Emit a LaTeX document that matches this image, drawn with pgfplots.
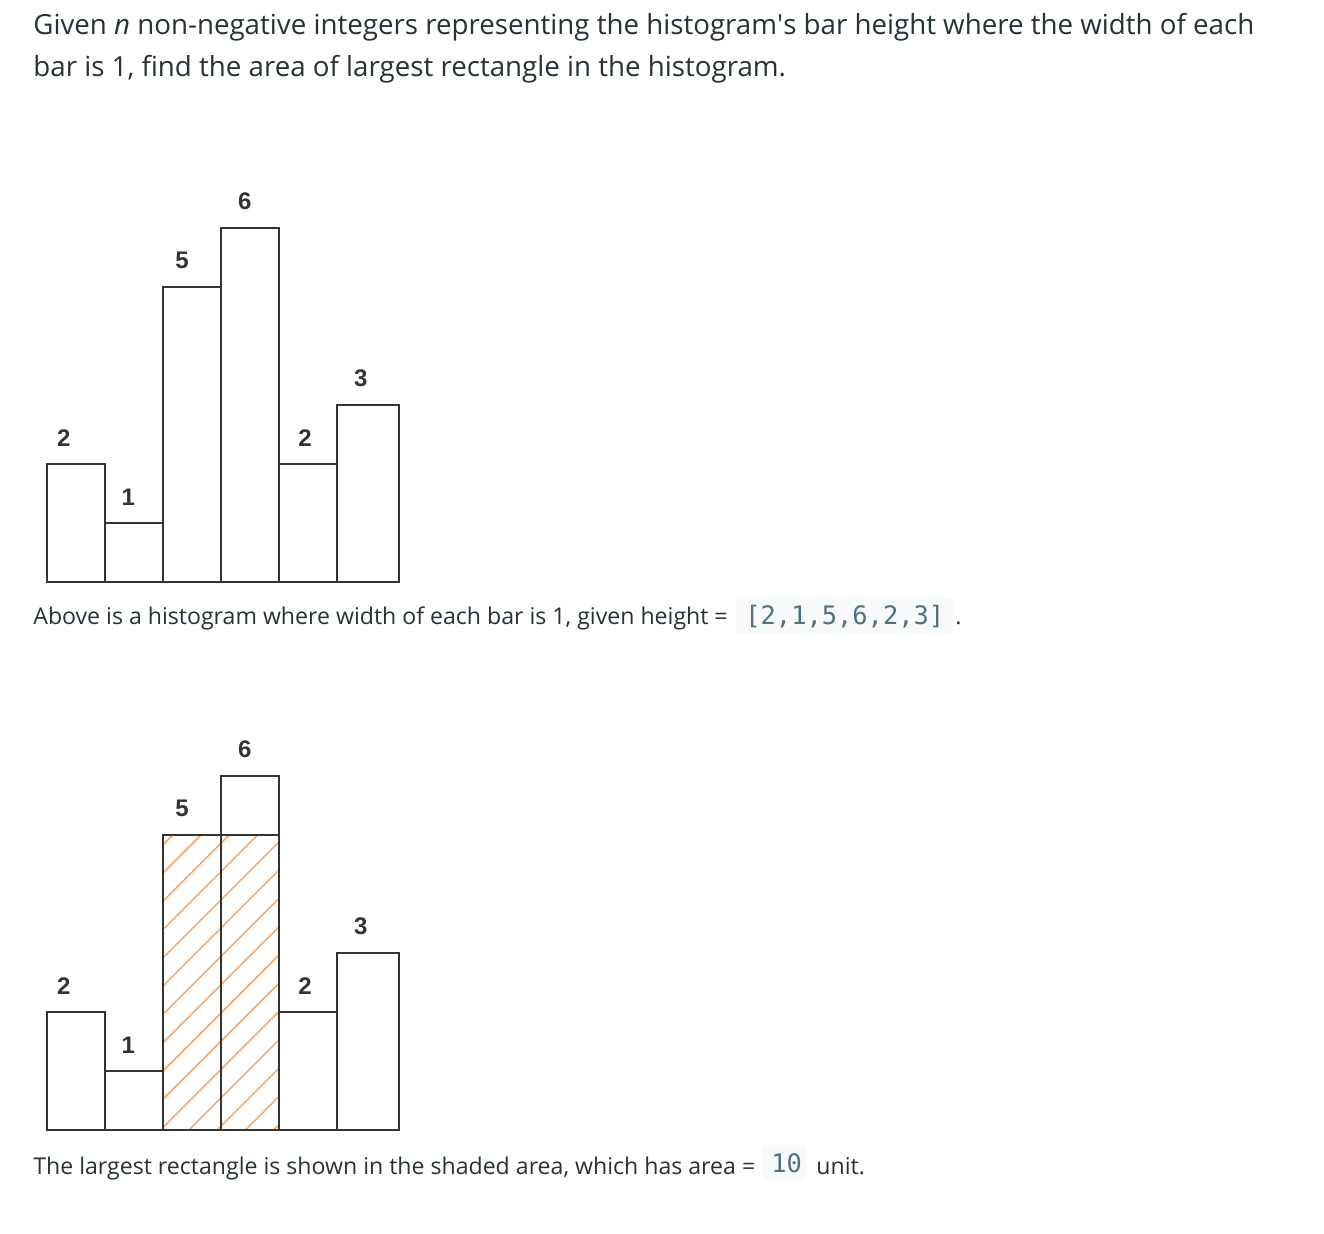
\documentclass[border=0pt]{standalone}
\usepackage{pgfplots}
\pgfplotsset{compat=1.18}
\usetikzlibrary{patterns.meta}
\usepackage{fontspec}
\setmainfont{Open Sans}
\newfontfamily\lblfont{Liberation Sans}
\newfontfamily\codefont{DejaVu Sans Mono}
\definecolor{txt}{RGB}{38,50,56}
\definecolor{barc}{RGB}{51,51,51}
\definecolor{hatch}{RGB}{247,165,105}
\definecolor{codebg}{RGB}{247,249,250}
\definecolor{codefg}{RGB}{84,110,122}
\begin{document}
\begin{tikzpicture}
\fill[white] (0,0) rectangle (662pt,-617pt);
\pgfplotsset{histo/.style={
  scale only axis, width=176pt, height=177pt,
  xmin=0, xmax=6.07, ymin=0, ymax=6,
  hide axis, clip=false, anchor=south west}}
\pgfplotsset{lbl/.style={draw=none, mark=none, nodes near coords,
  point meta=explicit symbolic,
  every node near coord/.append style={anchor=south, inner sep=0pt, yshift=8.75pt,
    font=\lblfont\fontsize{12}{14}\selectfont\bfseries, text=barc}}}
% first histogram
\begin{axis}[histo, at={(23.5pt,-291pt)}]
\addplot[ybar interval, draw=barc, line width=1pt, fill=none]
  coordinates {(0,2)(1,1)(2,5)(3,6)(4,2)(5,3)(6.07,3)};
\addplot[lbl] coordinates {(0.29,2)[2] (1.40,1)[1] (2.33,5)[5] (3.41,6)[6] (4.45,2)[2] (5.41,3)[3]};
\end{axis}
% second histogram
\begin{axis}[histo, at={(23.5pt,-565pt)}]
\addplot[ybar interval, draw=none, fill=none,
  pattern={Lines[angle=45,distance=10pt,line width=0.75pt]}, pattern color=hatch]
  coordinates {(2,5)(3,5)(4,5)};
\addplot[ybar interval, draw=barc, line width=1pt, fill=none]
  coordinates {(2,5)(3,5)(4,5)};
\addplot[ybar interval, draw=barc, line width=1pt, fill=none]
  coordinates {(0,2)(1,1)(2,5)(3,6)(4,2)(5,3)(6.07,3)};
\addplot[lbl] coordinates {(0.29,2)[2] (1.40,1)[1] (2.33,5)[5] (3.41,6)[6] (4.45,2)[2] (5.41,3)[3]};
\end{axis}
\begin{scope}[x=0.5pt,y=-0.5pt]
\tikzset{t/.style={anchor=base west, inner sep=0pt, text=txt}}
\node[t, font=\fontsize{13.85}{16}\selectfont] at (33,35) {Given \textit{n} non-negative integers representing the histogram\textquotesingle s bar height where the width of each};
\node[t, font=\fontsize{13.85}{16}\selectfont] at (33,77) {bar is 1, find the area of largest rectangle in the histogram.};
% caption 1
\node[t, font=\fontsize{11.55}{13}\selectfont] at (33,625) {Above is a histogram where width of each bar is 1, given height =};
\fill[codebg, rounded corners=3pt] (736,597) rectangle (953,634);
\node[t, font=\codefont\fontsize{12.7}{15}\selectfont, text=codefg] at (745,625) {[2,1,5,6,2,3]};
\node[t, font=\fontsize{11.55}{13}\selectfont] at (955,625) {.};
% caption 2
\node[t, font=\fontsize{11.55}{13}\selectfont] at (33,1174) {The largest rectangle is shown in the shaded area, which has area =};
\fill[codebg, rounded corners=3pt] (762,1145) rectangle (807,1181);
\node[t, font=\codefont\fontsize{12.7}{15}\selectfont, text=codefg] at (771,1173) {10};
\node[t, font=\fontsize{11.55}{13}\selectfont] at (816,1174) {unit.};
\end{scope}
\end{tikzpicture}
\end{document}
